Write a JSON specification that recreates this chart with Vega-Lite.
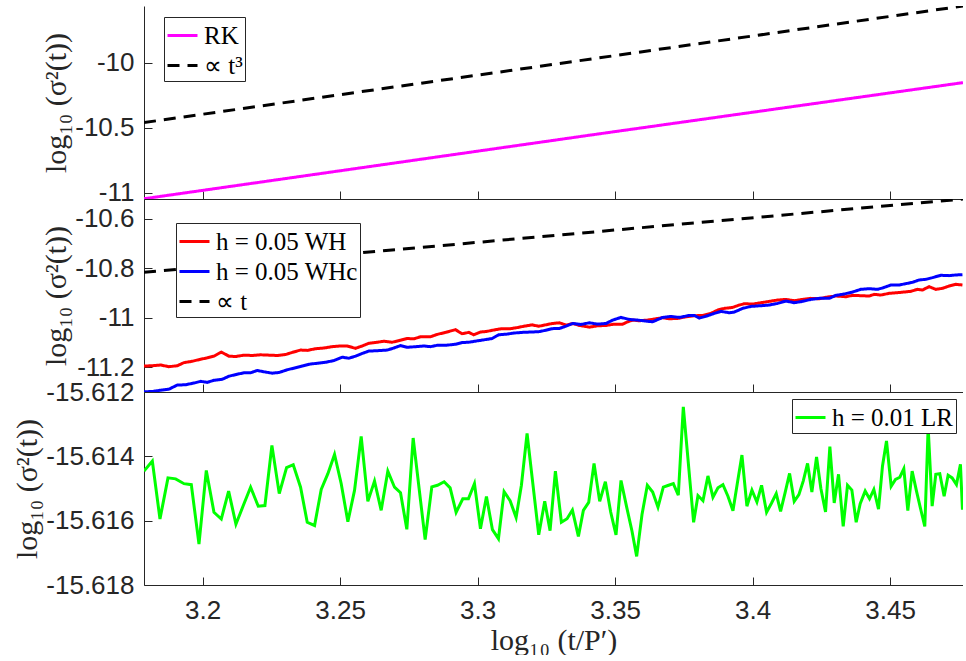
{
"$schema": "https://vega.github.io/schema/vega-lite/v6.json",
"background": "white",
"padding": {"left": 12, "top": 6, "right": 0, "bottom": 0},
"spacing": 0,
"bounds": "flush",
"resolve": {"scale": {"color": "independent", "strokeDash": "independent", "x": "independent", "y": "independent"}, "legend": {"color": "independent", "strokeDash": "independent"}},
"config": {
  "view": {"stroke": null},
  "axis": {"grid": false, "domainColor": "#262626", "domainWidth": 1, "tickColor": "#262626", "tickWidth": 1, "tickSize": -8,
    "labelFont": "Liberation Sans", "labelFontSize": 26, "labelColor": "#262626", "labelPadding": 18,
    "titleFont": "Liberation Serif", "titleFontSize": 30, "titleFontWeight": "normal", "titleColor": "#262626", "titlePadding": 3},
  "axisX": {"labelPadding": 20, "titlePadding": 2},
  "legend": {"symbolType": "stroke", "symbolSize": 900, "symbolStrokeWidth": 3, "labelFont": "Liberation Serif", "labelFontSize": 25, "labelColor": "black",
    "labelOffset": 5, "rowPadding": 0, "padding": 2, "strokeColor": "#262626", "fillColor": "white", "labelLimit": 400}
},
"datasets": {
"p1": [
{"s":"RK","x":3.1787,"y":-11.048},{"s":"RK","x":3.3433,"y":-10.551},{"s":"RK","x":3.4765,"y":-10.154},
{"s":"∝ t³","x":3.1787,"y":-10.4615},{"s":"∝ t³","x":3.3433,"y":-9.966},{"s":"∝ t³","x":3.4765,"y":-9.564}
],
"p2": [
{"s":"h = 0.05 WH","x":3.17870,"y":-11.1951},{"s":"h = 0.05 WH","x":3.18173,"y":-11.1937},{"s":"h = 0.05 WH","x":3.18476,"y":-11.1909},{"s":"h = 0.05 WH","x":3.18778,"y":-11.1978},{"s":"h = 0.05 WH","x":3.19081,"y":-11.1937},{"s":"h = 0.05 WH","x":3.19323,"y":-11.1813},{"s":"h = 0.05 WH","x":3.19626,"y":-11.1758},{"s":"h = 0.05 WH","x":3.19929,"y":-11.1676},{"s":"h = 0.05 WH","x":3.20171,"y":-11.1621},{"s":"h = 0.05 WH","x":3.20414,"y":-11.1552},{"s":"h = 0.05 WH","x":3.20680,"y":-11.1387},{"s":"h = 0.05 WH","x":3.20959,"y":-11.1552},{"s":"h = 0.05 WH","x":3.21201,"y":-11.1566},{"s":"h = 0.05 WH","x":3.21504,"y":-11.1511},{"s":"h = 0.05 WH","x":3.21807,"y":-11.1525},{"s":"h = 0.05 WH","x":3.22109,"y":-11.1497},{"s":"h = 0.05 WH","x":3.22412,"y":-11.1511},{"s":"h = 0.05 WH","x":3.22715,"y":-11.1525},{"s":"h = 0.05 WH","x":3.23018,"y":-11.1484},{"s":"h = 0.05 WH","x":3.23260,"y":-11.1401},{"s":"h = 0.05 WH","x":3.23563,"y":-11.1305},{"s":"h = 0.05 WH","x":3.23805,"y":-11.1319},{"s":"h = 0.05 WH","x":3.24108,"y":-11.1250},{"s":"h = 0.05 WH","x":3.24411,"y":-11.1223},{"s":"h = 0.05 WH","x":3.24713,"y":-11.1168},{"s":"h = 0.05 WH","x":3.25016,"y":-11.1140},{"s":"h = 0.05 WH","x":3.25259,"y":-11.1140},{"s":"h = 0.05 WH","x":3.25561,"y":-11.1236},{"s":"h = 0.05 WH","x":3.25804,"y":-11.1140},{"s":"h = 0.05 WH","x":3.26046,"y":-11.1030},{"s":"h = 0.05 WH","x":3.26349,"y":-11.0989},{"s":"h = 0.05 WH","x":3.26591,"y":-11.0948},{"s":"h = 0.05 WH","x":3.26894,"y":-11.0989},{"s":"h = 0.05 WH","x":3.27197,"y":-11.0907},{"s":"h = 0.05 WH","x":3.27439,"y":-11.0838},{"s":"h = 0.05 WH","x":3.27681,"y":-11.0852},{"s":"h = 0.05 WH","x":3.27923,"y":-11.0769},{"s":"h = 0.05 WH","x":3.28287,"y":-11.0769},{"s":"h = 0.05 WH","x":3.28529,"y":-11.0673},{"s":"h = 0.05 WH","x":3.28832,"y":-11.0591},{"s":"h = 0.05 WH","x":3.29195,"y":-11.0481},{"s":"h = 0.05 WH","x":3.29437,"y":-11.0646},{"s":"h = 0.05 WH","x":3.29680,"y":-11.0591},{"s":"h = 0.05 WH","x":3.29861,"y":-11.0687},{"s":"h = 0.05 WH","x":3.30104,"y":-11.0577},{"s":"h = 0.05 WH","x":3.30346,"y":-11.0549},{"s":"h = 0.05 WH","x":3.30648,"y":-11.0481},{"s":"h = 0.05 WH","x":3.30891,"y":-11.0440},{"s":"h = 0.05 WH","x":3.31194,"y":-11.0440},{"s":"h = 0.05 WH","x":3.31436,"y":-11.0398},{"s":"h = 0.05 WH","x":3.31678,"y":-11.0343},{"s":"h = 0.05 WH","x":3.31981,"y":-11.0288},{"s":"h = 0.05 WH","x":3.32223,"y":-11.0343},{"s":"h = 0.05 WH","x":3.32466,"y":-11.0288},{"s":"h = 0.05 WH","x":3.32708,"y":-11.0234},
{"s":"h = 0.05 WH","x":3.32974,"y":-11.0203},{"s":"h = 0.05 WH","x":3.33216,"y":-11.0297},{"s":"h = 0.05 WH","x":3.33459,"y":-11.0230},{"s":"h = 0.05 WH","x":3.33701,"y":-11.0311},{"s":"h = 0.05 WH","x":3.34064,"y":-11.0378},{"s":"h = 0.05 WH","x":3.34367,"y":-11.0324},{"s":"h = 0.05 WH","x":3.34670,"y":-11.0311},{"s":"h = 0.05 WH","x":3.34973,"y":-11.0257},{"s":"h = 0.05 WH","x":3.35276,"y":-11.0257},{"s":"h = 0.05 WH","x":3.35457,"y":-11.0162},{"s":"h = 0.05 WH","x":3.35639,"y":-11.0094},{"s":"h = 0.05 WH","x":3.35881,"y":-11.0121},{"s":"h = 0.05 WH","x":3.36184,"y":-11.0094},{"s":"h = 0.05 WH","x":3.36487,"y":-11.0040},{"s":"h = 0.05 WH","x":3.36729,"y":-11.0000},{"s":"h = 0.05 WH","x":3.36971,"y":-11.0040},{"s":"h = 0.05 WH","x":3.37274,"y":-11.0027},{"s":"h = 0.05 WH","x":3.37577,"y":-10.9959},{"s":"h = 0.05 WH","x":3.37880,"y":-10.9919},{"s":"h = 0.05 WH","x":3.38183,"y":-10.9905},{"s":"h = 0.05 WH","x":3.38485,"y":-10.9824},{"s":"h = 0.05 WH","x":3.38728,"y":-10.9689},{"s":"h = 0.05 WH","x":3.38970,"y":-10.9621},{"s":"h = 0.05 WH","x":3.39273,"y":-10.9581},{"s":"h = 0.05 WH","x":3.39515,"y":-10.9486},{"s":"h = 0.05 WH","x":3.39697,"y":-10.9432},{"s":"h = 0.05 WH","x":3.40000,"y":-10.9446},{"s":"h = 0.05 WH","x":3.40302,"y":-10.9392},{"s":"h = 0.05 WH","x":3.40605,"y":-10.9338},{"s":"h = 0.05 WH","x":3.40908,"y":-10.9284},{"s":"h = 0.05 WH","x":3.41211,"y":-10.9257},{"s":"h = 0.05 WH","x":3.41513,"y":-10.9311},{"s":"h = 0.05 WH","x":3.41816,"y":-10.9257},{"s":"h = 0.05 WH","x":3.42119,"y":-10.9216},{"s":"h = 0.05 WH","x":3.42422,"y":-10.9230},{"s":"h = 0.05 WH","x":3.42725,"y":-10.9162},{"s":"h = 0.05 WH","x":3.43027,"y":-10.9121},{"s":"h = 0.05 WH","x":3.43391,"y":-10.9148},{"s":"h = 0.05 WH","x":3.43633,"y":-10.9094},{"s":"h = 0.05 WH","x":3.43936,"y":-10.9108},{"s":"h = 0.05 WH","x":3.44239,"y":-10.9121},{"s":"h = 0.05 WH","x":3.44420,"y":-10.9054},{"s":"h = 0.05 WH","x":3.44663,"y":-10.9081},{"s":"h = 0.05 WH","x":3.44966,"y":-10.9013},{"s":"h = 0.05 WH","x":3.45268,"y":-10.8986},{"s":"h = 0.05 WH","x":3.45510,"y":-10.8959},{"s":"h = 0.05 WH","x":3.45753,"y":-10.8932},{"s":"h = 0.05 WH","x":3.45995,"y":-10.8851},{"s":"h = 0.05 WH","x":3.46177,"y":-10.8878},{"s":"h = 0.05 WH","x":3.46419,"y":-10.8743},{"s":"h = 0.05 WH","x":3.46661,"y":-10.8851},{"s":"h = 0.05 WH","x":3.46903,"y":-10.8811},{"s":"h = 0.05 WH","x":3.47145,"y":-10.8716},{"s":"h = 0.05 WH","x":3.47388,"y":-10.8648},{"s":"h = 0.05 WH","x":3.47630,"y":-10.8676},
{"s":"h = 0.05 WHc","x":3.17870,"y":-11.2990},{"s":"h = 0.05 WHc","x":3.18173,"y":-11.2981},{"s":"h = 0.05 WHc","x":3.18476,"y":-11.2926},{"s":"h = 0.05 WHc","x":3.18778,"y":-11.2885},{"s":"h = 0.05 WHc","x":3.19081,"y":-11.2720},{"s":"h = 0.05 WHc","x":3.19384,"y":-11.2706},{"s":"h = 0.05 WHc","x":3.19687,"y":-11.2637},{"s":"h = 0.05 WHc","x":3.19929,"y":-11.2569},{"s":"h = 0.05 WHc","x":3.20171,"y":-11.2610},{"s":"h = 0.05 WHc","x":3.20414,"y":-11.2527},{"s":"h = 0.05 WHc","x":3.20716,"y":-11.2486},{"s":"h = 0.05 WHc","x":3.20959,"y":-11.2363},{"s":"h = 0.05 WHc","x":3.21261,"y":-11.2280},{"s":"h = 0.05 WHc","x":3.21504,"y":-11.2225},{"s":"h = 0.05 WHc","x":3.21746,"y":-11.2225},{"s":"h = 0.05 WHc","x":3.21988,"y":-11.2129},{"s":"h = 0.05 WHc","x":3.22231,"y":-11.2184},{"s":"h = 0.05 WHc","x":3.22533,"y":-11.2239},{"s":"h = 0.05 WHc","x":3.22776,"y":-11.2212},{"s":"h = 0.05 WHc","x":3.23078,"y":-11.2102},{"s":"h = 0.05 WHc","x":3.23381,"y":-11.2019},{"s":"h = 0.05 WHc","x":3.23623,"y":-11.1951},{"s":"h = 0.05 WHc","x":3.23926,"y":-11.1868},{"s":"h = 0.05 WHc","x":3.24169,"y":-11.1841},{"s":"h = 0.05 WHc","x":3.24471,"y":-11.1799},{"s":"h = 0.05 WHc","x":3.24774,"y":-11.1731},{"s":"h = 0.05 WHc","x":3.25077,"y":-11.1593},{"s":"h = 0.05 WHc","x":3.25319,"y":-11.1635},{"s":"h = 0.05 WHc","x":3.25561,"y":-11.1552},{"s":"h = 0.05 WHc","x":3.25804,"y":-11.1442},{"s":"h = 0.05 WHc","x":3.26046,"y":-11.1346},{"s":"h = 0.05 WHc","x":3.26349,"y":-11.1332},{"s":"h = 0.05 WHc","x":3.26712,"y":-11.1305},{"s":"h = 0.05 WHc","x":3.26954,"y":-11.1223},{"s":"h = 0.05 WHc","x":3.27197,"y":-11.1126},{"s":"h = 0.05 WHc","x":3.27439,"y":-11.1195},{"s":"h = 0.05 WHc","x":3.27742,"y":-11.1168},{"s":"h = 0.05 WHc","x":3.28045,"y":-11.1140},{"s":"h = 0.05 WHc","x":3.28287,"y":-11.1168},{"s":"h = 0.05 WHc","x":3.28529,"y":-11.1113},{"s":"h = 0.05 WHc","x":3.28832,"y":-11.1113},{"s":"h = 0.05 WHc","x":3.29195,"y":-11.1071},{"s":"h = 0.05 WHc","x":3.29437,"y":-11.1003},{"s":"h = 0.05 WHc","x":3.29680,"y":-11.0989},{"s":"h = 0.05 WHc","x":3.29982,"y":-11.0934},{"s":"h = 0.05 WHc","x":3.30225,"y":-11.0893},{"s":"h = 0.05 WHc","x":3.30527,"y":-11.0838},{"s":"h = 0.05 WHc","x":3.30770,"y":-11.0687},{"s":"h = 0.05 WHc","x":3.31072,"y":-11.0659},{"s":"h = 0.05 WHc","x":3.31315,"y":-11.0618},{"s":"h = 0.05 WHc","x":3.31617,"y":-11.0591},{"s":"h = 0.05 WHc","x":3.31920,"y":-11.0577},{"s":"h = 0.05 WHc","x":3.32223,"y":-11.0563},{"s":"h = 0.05 WHc","x":3.32466,"y":-11.0508},{"s":"h = 0.05 WHc","x":3.32708,"y":-11.0440},
{"s":"h = 0.05 WHc","x":3.32974,"y":-11.0432},{"s":"h = 0.05 WHc","x":3.33216,"y":-11.0338},{"s":"h = 0.05 WHc","x":3.33459,"y":-11.0230},{"s":"h = 0.05 WHc","x":3.33762,"y":-11.0270},{"s":"h = 0.05 WHc","x":3.34064,"y":-11.0203},{"s":"h = 0.05 WHc","x":3.34367,"y":-11.0257},{"s":"h = 0.05 WHc","x":3.34670,"y":-11.0230},{"s":"h = 0.05 WHc","x":3.34912,"y":-11.0094},{"s":"h = 0.05 WHc","x":3.35215,"y":-10.9986},{"s":"h = 0.05 WHc","x":3.35518,"y":-11.0067},{"s":"h = 0.05 WHc","x":3.35821,"y":-11.0094},{"s":"h = 0.05 WHc","x":3.36123,"y":-11.0135},{"s":"h = 0.05 WHc","x":3.36366,"y":-11.0162},{"s":"h = 0.05 WHc","x":3.36729,"y":-10.9986},{"s":"h = 0.05 WHc","x":3.37032,"y":-10.9946},{"s":"h = 0.05 WHc","x":3.37335,"y":-10.9986},{"s":"h = 0.05 WHc","x":3.37698,"y":-10.9905},{"s":"h = 0.05 WHc","x":3.37880,"y":-10.9905},{"s":"h = 0.05 WHc","x":3.38062,"y":-11.0013},{"s":"h = 0.05 WHc","x":3.38364,"y":-10.9919},{"s":"h = 0.05 WHc","x":3.38607,"y":-10.9824},{"s":"h = 0.05 WHc","x":3.38849,"y":-10.9743},{"s":"h = 0.05 WHc","x":3.39152,"y":-10.9797},{"s":"h = 0.05 WHc","x":3.39333,"y":-10.9770},{"s":"h = 0.05 WHc","x":3.39636,"y":-10.9621},{"s":"h = 0.05 WHc","x":3.39939,"y":-10.9540},{"s":"h = 0.05 WHc","x":3.40302,"y":-10.9513},{"s":"h = 0.05 WHc","x":3.40605,"y":-10.9486},{"s":"h = 0.05 WHc","x":3.40908,"y":-10.9419},{"s":"h = 0.05 WHc","x":3.41211,"y":-10.9324},{"s":"h = 0.05 WHc","x":3.41513,"y":-10.9392},{"s":"h = 0.05 WHc","x":3.41816,"y":-10.9338},{"s":"h = 0.05 WHc","x":3.42119,"y":-10.9257},{"s":"h = 0.05 WHc","x":3.42422,"y":-10.9216},{"s":"h = 0.05 WHc","x":3.42785,"y":-10.9216},{"s":"h = 0.05 WHc","x":3.43027,"y":-10.9094},{"s":"h = 0.05 WHc","x":3.43330,"y":-10.9040},{"s":"h = 0.05 WHc","x":3.43633,"y":-10.8959},{"s":"h = 0.05 WHc","x":3.43936,"y":-10.8851},{"s":"h = 0.05 WHc","x":3.44239,"y":-10.8824},{"s":"h = 0.05 WHc","x":3.44542,"y":-10.8851},{"s":"h = 0.05 WHc","x":3.44723,"y":-10.8797},{"s":"h = 0.05 WHc","x":3.45026,"y":-10.8676},{"s":"h = 0.05 WHc","x":3.45329,"y":-10.8676},{"s":"h = 0.05 WHc","x":3.45571,"y":-10.8621},{"s":"h = 0.05 WHc","x":3.45813,"y":-10.8567},{"s":"h = 0.05 WHc","x":3.46056,"y":-10.8473},{"s":"h = 0.05 WHc","x":3.46298,"y":-10.8446},{"s":"h = 0.05 WHc","x":3.46540,"y":-10.8378},{"s":"h = 0.05 WHc","x":3.46843,"y":-10.8284},{"s":"h = 0.05 WHc","x":3.47145,"y":-10.8297},{"s":"h = 0.05 WHc","x":3.47388,"y":-10.8270},{"s":"h = 0.05 WHc","x":3.47630,"y":-10.8257},
{"s":"∝ t","x":3.1787,"y":-10.816},{"s":"∝ t","x":3.3433,"y":-10.652},{"s":"∝ t","x":3.4765,"y":-10.52}
],
"p3": [
{"s":"h = 0.01 LR","x":3.17870,"y":-15.61446},{"s":"h = 0.01 LR","x":3.18173,"y":-15.61415},{"s":"h = 0.01 LR","x":3.18451,"y":-15.61595},{"s":"h = 0.01 LR","x":3.18742,"y":-15.61467},{"s":"h = 0.01 LR","x":3.19021,"y":-15.61470},{"s":"h = 0.01 LR","x":3.19324,"y":-15.61485},{"s":"h = 0.01 LR","x":3.19590,"y":-15.61488},{"s":"h = 0.01 LR","x":3.19869,"y":-15.61673},{"s":"h = 0.01 LR","x":3.20135,"y":-15.61444},{"s":"h = 0.01 LR","x":3.20414,"y":-15.61574},{"s":"h = 0.01 LR","x":3.20680,"y":-15.61595},{"s":"h = 0.01 LR","x":3.20947,"y":-15.61508},{"s":"h = 0.01 LR","x":3.21213,"y":-15.61611},{"s":"h = 0.01 LR","x":3.21480,"y":-15.61553},{"s":"h = 0.01 LR","x":3.21746,"y":-15.61496},{"s":"h = 0.01 LR","x":3.22025,"y":-15.61555},{"s":"h = 0.01 LR","x":3.22267,"y":-15.61553},{"s":"h = 0.01 LR","x":3.22521,"y":-15.61366},{"s":"h = 0.01 LR","x":3.22788,"y":-15.61516},{"s":"h = 0.01 LR","x":3.23054,"y":-15.61435},{"s":"h = 0.01 LR","x":3.23296,"y":-15.61426},{"s":"h = 0.01 LR","x":3.23563,"y":-15.61496},{"s":"h = 0.01 LR","x":3.23805,"y":-15.61605},{"s":"h = 0.01 LR","x":3.24072,"y":-15.61615},{"s":"h = 0.01 LR","x":3.24314,"y":-15.61503},{"s":"h = 0.01 LR","x":3.24556,"y":-15.61454},{"s":"h = 0.01 LR","x":3.24798,"y":-15.61394},{"s":"h = 0.01 LR","x":3.25041,"y":-15.61485},{"s":"h = 0.01 LR","x":3.25283,"y":-15.61603},{"s":"h = 0.01 LR","x":3.25525,"y":-15.61506},{"s":"h = 0.01 LR","x":3.25767,"y":-15.61338},{"s":"h = 0.01 LR","x":3.26010,"y":-15.61540},{"s":"h = 0.01 LR","x":3.26252,"y":-15.61477},{"s":"h = 0.01 LR","x":3.26494,"y":-15.61568},{"s":"h = 0.01 LR","x":3.26736,"y":-15.61446},{"s":"h = 0.01 LR","x":3.26979,"y":-15.61496},{"s":"h = 0.01 LR","x":3.27197,"y":-15.61513},{"s":"h = 0.01 LR","x":3.27427,"y":-15.61627},{"s":"h = 0.01 LR","x":3.27657,"y":-15.61343},
{"s":"h = 0.01 LR","x":3.28093,"y":-15.61659},{"s":"h = 0.01 LR","x":3.28335,"y":-15.61495},{"s":"h = 0.01 LR","x":3.28541,"y":-15.61490},{"s":"h = 0.01 LR","x":3.28783,"y":-15.61479},{"s":"h = 0.01 LR","x":3.29001,"y":-15.61498},{"s":"h = 0.01 LR","x":3.29219,"y":-15.61574},{"s":"h = 0.01 LR","x":3.29462,"y":-15.61532},{"s":"h = 0.01 LR","x":3.29667,"y":-15.61532},{"s":"h = 0.01 LR","x":3.29886,"y":-15.61485},{"s":"h = 0.01 LR","x":3.30104,"y":-15.61625},{"s":"h = 0.01 LR","x":3.30322,"y":-15.61525},{"s":"h = 0.01 LR","x":3.30540,"y":-15.61628},{"s":"h = 0.01 LR","x":3.30758,"y":-15.61656},{"s":"h = 0.01 LR","x":3.30963,"y":-15.61510},{"s":"h = 0.01 LR","x":3.31182,"y":-15.61538},{"s":"h = 0.01 LR","x":3.31400,"y":-15.61590},{"s":"h = 0.01 LR","x":3.31593,"y":-15.61490},{"s":"h = 0.01 LR","x":3.31799,"y":-15.61329},{"s":"h = 0.01 LR","x":3.32223,"y":-15.61644},{"s":"h = 0.01 LR","x":3.32441,"y":-15.61540},{"s":"h = 0.01 LR","x":3.32635,"y":-15.61631},{"s":"h = 0.01 LR","x":3.32829,"y":-15.61446},{"s":"h = 0.01 LR","x":3.33047,"y":-15.61605},{"s":"h = 0.01 LR","x":3.33253,"y":-15.61594},{"s":"h = 0.01 LR","x":3.33447,"y":-15.61567},{"s":"h = 0.01 LR","x":3.33665,"y":-15.61649},{"s":"h = 0.01 LR","x":3.33846,"y":-15.61568},{"s":"h = 0.01 LR","x":3.34040,"y":-15.61543},{"s":"h = 0.01 LR","x":3.34234,"y":-15.61422},{"s":"h = 0.01 LR","x":3.34440,"y":-15.61540},{"s":"h = 0.01 LR","x":3.34646,"y":-15.61479},{"s":"h = 0.01 LR","x":3.34839,"y":-15.61573},{"s":"h = 0.01 LR","x":3.35033,"y":-15.61644},{"s":"h = 0.01 LR","x":3.35215,"y":-15.61475},{"s":"h = 0.01 LR","x":3.35421,"y":-15.61558},{"s":"h = 0.01 LR","x":3.35615,"y":-15.61633},{"s":"h = 0.01 LR","x":3.35784,"y":-15.61711},{"s":"h = 0.01 LR","x":3.35978,"y":-15.61581},{"s":"h = 0.01 LR","x":3.36172,"y":-15.61490},{"s":"h = 0.01 LR","x":3.36366,"y":-15.61511},{"s":"h = 0.01 LR","x":3.36559,"y":-15.61558},{"s":"h = 0.01 LR","x":3.36753,"y":-15.61496},{"s":"h = 0.01 LR","x":3.36947,"y":-15.61490},{"s":"h = 0.01 LR","x":3.37117,"y":-15.61485},{"s":"h = 0.01 LR","x":3.37298,"y":-15.61521},{"s":"h = 0.01 LR","x":3.37480,"y":-15.61246},
{"s":"h = 0.01 LR","x":3.37855,"y":-15.61605},{"s":"h = 0.01 LR","x":3.38013,"y":-15.61522},{"s":"h = 0.01 LR","x":3.38195,"y":-15.61538},{"s":"h = 0.01 LR","x":3.38376,"y":-15.61461},{"s":"h = 0.01 LR","x":3.38558,"y":-15.61527},{"s":"h = 0.01 LR","x":3.38740,"y":-15.61498},{"s":"h = 0.01 LR","x":3.38921,"y":-15.61488},{"s":"h = 0.01 LR","x":3.39103,"y":-15.61524},{"s":"h = 0.01 LR","x":3.39285,"y":-15.61569},{"s":"h = 0.01 LR","x":3.39442,"y":-15.61485},{"s":"h = 0.01 LR","x":3.39612,"y":-15.61396},{"s":"h = 0.01 LR","x":3.39793,"y":-15.61555},{"s":"h = 0.01 LR","x":3.39975,"y":-15.61505},{"s":"h = 0.01 LR","x":3.40157,"y":-15.61542},{"s":"h = 0.01 LR","x":3.40326,"y":-15.61490},{"s":"h = 0.01 LR","x":3.40508,"y":-15.61574},{"s":"h = 0.01 LR","x":3.40690,"y":-15.61545},{"s":"h = 0.01 LR","x":3.40859,"y":-15.61516},{"s":"h = 0.01 LR","x":3.41017,"y":-15.61571},{"s":"h = 0.01 LR","x":3.41186,"y":-15.61511},{"s":"h = 0.01 LR","x":3.41344,"y":-15.61453},{"s":"h = 0.01 LR","x":3.41513,"y":-15.61540},{"s":"h = 0.01 LR","x":3.41683,"y":-15.61519},{"s":"h = 0.01 LR","x":3.41840,"y":-15.61477},{"s":"h = 0.01 LR","x":3.41998,"y":-15.61422},{"s":"h = 0.01 LR","x":3.42155,"y":-15.61511},{"s":"h = 0.01 LR","x":3.42325,"y":-15.61402},{"s":"h = 0.01 LR","x":3.42482,"y":-15.61500},{"s":"h = 0.01 LR","x":3.42652,"y":-15.61573},{"s":"h = 0.01 LR","x":3.42809,"y":-15.61370},{"s":"h = 0.01 LR","x":3.42967,"y":-15.61545},{"s":"h = 0.01 LR","x":3.43124,"y":-15.61456},{"s":"h = 0.01 LR","x":3.43294,"y":-15.61618},{"s":"h = 0.01 LR","x":3.43451,"y":-15.61490},{"s":"h = 0.01 LR","x":3.43609,"y":-15.61505},{"s":"h = 0.01 LR","x":3.43766,"y":-15.61605},{"s":"h = 0.01 LR","x":3.43912,"y":-15.61547},{"s":"h = 0.01 LR","x":3.44093,"y":-15.61508},{"s":"h = 0.01 LR","x":3.44251,"y":-15.61532},{"s":"h = 0.01 LR","x":3.44408,"y":-15.61503},{"s":"h = 0.01 LR","x":3.44578,"y":-15.61564},{"s":"h = 0.01 LR","x":3.44723,"y":-15.61430},{"s":"h = 0.01 LR","x":3.44868,"y":-15.61352},{"s":"h = 0.01 LR","x":3.45038,"y":-15.61493},{"s":"h = 0.01 LR","x":3.45196,"y":-15.61472},{"s":"h = 0.01 LR","x":3.45353,"y":-15.61465},{"s":"h = 0.01 LR","x":3.45498,"y":-15.61439},{"s":"h = 0.01 LR","x":3.45644,"y":-15.61569},{"s":"h = 0.01 LR","x":3.45801,"y":-15.61446},{"s":"h = 0.01 LR","x":3.45959,"y":-15.61508},{"s":"h = 0.01 LR","x":3.46116,"y":-15.61566},{"s":"h = 0.01 LR","x":3.46261,"y":-15.61618},{"s":"h = 0.01 LR","x":3.46383,"y":-15.61310},{"s":"h = 0.01 LR","x":3.46528,"y":-15.61555},{"s":"h = 0.01 LR","x":3.46661,"y":-15.61456},{"s":"h = 0.01 LR","x":3.46806,"y":-15.61454},{"s":"h = 0.01 LR","x":3.46964,"y":-15.61524},{"s":"h = 0.01 LR","x":3.47109,"y":-15.61459},{"s":"h = 0.01 LR","x":3.47255,"y":-15.61467},{"s":"h = 0.01 LR","x":3.47412,"y":-15.61488},{"s":"h = 0.01 LR","x":3.47557,"y":-15.61425},{"s":"h = 0.01 LR","x":3.47630,"y":-15.61566}
]
},
"vconcat": [
{
  "width": 819, "height": 193,
  "data": {"name": "p1"},
  "mark": {"type": "line", "strokeWidth": 3, "clip": true},
  "encoding": {
    "x": {"field": "x", "type": "quantitative", "scale": {"domain": [3.1787, 3.4765], "nice": false, "zero": false}, "axis": {"values": [3.2, 3.25, 3.3, 3.35, 3.4, 3.45], "labels": false, "title": null}},
    "y": {"field": "y", "type": "quantitative", "scale": {"domain": [-11.05, -9.564], "nice": false, "zero": false}, "axis": {"values": [-11, -10.5, -10], "labelExpr": "datum.value + ''", "labelFlush": false, "labelOverlap": false, "title": "log₁₀ (σ²(t))"}},
    "color": {"field": "s", "type": "nominal", "scale": {"domain": ["RK", "∝ t³"], "range": ["#ff00ff", "#000000"]}, "legend": {"orient": "none", "legendX": 20, "legendY": 11, "title": null}},
    "strokeDash": {"field": "s", "type": "nominal", "scale": {"domain": ["RK", "∝ t³"], "range": [[1, 0], [12, 8]]}, "legend": {"orient": "none", "legendX": 20, "legendY": 11, "title": null}}
  }
},
{
  "width": 819, "height": 193,
  "data": {"name": "p2"},
  "mark": {"type": "line", "strokeWidth": 3, "clip": true},
  "encoding": {
    "x": {"field": "x", "type": "quantitative", "scale": {"domain": [3.1787, 3.4765], "nice": false, "zero": false}, "axis": {"values": [3.2, 3.25, 3.3, 3.35, 3.4, 3.45], "labels": false, "title": null}},
    "y": {"field": "y", "type": "quantitative", "scale": {"domain": [-11.3, -10.52], "nice": false, "zero": false}, "axis": {"values": [-11.2, -11, -10.8, -10.6], "labelExpr": "datum.value + ''", "labelFlush": false, "labelOverlap": false, "title": "log₁₀ (σ²(t))"}},
    "color": {"field": "s", "type": "nominal", "scale": {"domain": ["h = 0.05 WH", "h = 0.05 WHc", "∝ t"], "range": ["#ff0000", "#0000ff", "#000000"]}, "legend": {"orient": "none", "legendX": 32, "legendY": 24, "title": null}},
    "strokeDash": {"field": "s", "type": "nominal", "scale": {"domain": ["h = 0.05 WH", "h = 0.05 WHc", "∝ t"], "range": [[1, 0], [1, 0], [12, 8]]}, "legend": {"orient": "none", "legendX": 32, "legendY": 24, "title": null}}
  }
},
{
  "width": 819, "height": 193,
  "data": {"name": "p3"},
  "mark": {"type": "line", "strokeWidth": 3, "clip": true},
  "encoding": {
    "x": {"field": "x", "type": "quantitative", "scale": {"domain": [3.1787, 3.4765], "nice": false, "zero": false}, "axis": {"values": [3.2, 3.25, 3.3, 3.35, 3.4, 3.45], "labelExpr": "datum.value + ''", "labelFlush": false, "title": "log₁₀ (t/P′)"}},
    "y": {"field": "y", "type": "quantitative", "scale": {"domain": [-15.618, -15.612], "nice": false, "zero": false}, "axis": {"values": [-15.618, -15.616, -15.614, -15.612], "labelExpr": "datum.value + ''", "labelFlush": false, "labelOverlap": false, "title": "log₁₀ (σ²(t))"}},
    "color": {"field": "s", "type": "nominal", "scale": {"domain": ["h = 0.01 LR"], "range": ["#00ff00"]}, "legend": {"orient": "top-right", "offset": 7, "title": null}}
  }
}
]
}
